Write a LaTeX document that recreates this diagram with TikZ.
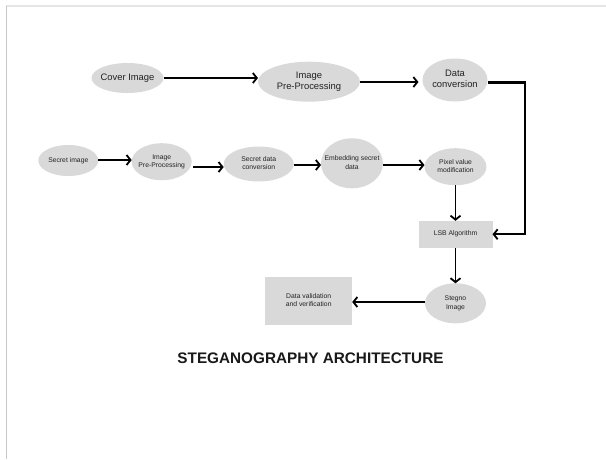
\documentclass[tikz,border=0pt]{standalone}
\usepackage{fontspec}
\setmainfont{Liberation Sans}
\usetikzlibrary{shapes.geometric,arrows.meta}
\definecolor{boxgray}{HTML}{D9D9D9}
\definecolor{txt}{HTML}{222222}
\newcommand{\zw}[1]{\makebox[0pt]{\begin{tabular}{@{}c@{}}#1\end{tabular}}}
\begin{document}
\begin{tikzpicture}[x=1pt,y=-1pt,
  ell/.style={ellipse,fill=boxgray,inner sep=0pt,outer sep=0pt,text=txt},
  rbox/.style={rectangle,fill=boxgray,inner sep=0pt,outer sep=0pt,text=txt},
  big/.style={font=\fontsize{9.4}{10.5}\selectfont},
  small/.style={font=\fontsize{6.8}{8.3}\selectfont},
  arr/.style={line width=1.8pt,-{Straight Barb[length=4pt,width=10pt]}},
  ]
\useasboundingbox (0,0) rectangle (606,459);
\draw[color=black!10,line width=1.3pt] (6.3,6) -- (606,6);
\draw[color=black!22,line width=1.3pt] (6.3,6) -- (6.3,459);

% top row
\node[ell,big,minimum width=72pt,minimum height=30pt] (cover) at (127.5,78) {\zw{Cover Image}};
\node[ell,big,minimum width=102pt,minimum height=40pt] (pre1) at (309,81.7) {\zw{Image\\Pre-Processing}};
\node[ell,big,minimum width=65pt,minimum height=43pt] (dconv) at (455,80) {\zw{Data\\conversion}};

% second row
\node[ell,small,minimum width=60pt,minimum height=31pt] (secret) at (68.3,160.5) {\zw{Secret image}};
\node[ell,small,minimum width=60pt,minimum height=37pt] (pre2) at (161.7,161.7) {\zw{Image\\Pre-Processing}};
\node[ell,small,minimum width=70pt,minimum height=35pt] (sdc) at (258.7,164) {\zw{Secret data\\conversion}};
\node[ell,small,minimum width=62pt,minimum height=50pt] (emb) at (352,163.3) {\zw{Embedding secret\\data}};
\node[ell,small,minimum width=62pt,minimum height=37pt] (pix) at (455.5,166.7) {\zw{Pixel value\\modification}};

% lower part
\node[rbox,small,minimum width=74pt,minimum height=27pt] (lsb) at (455.5,234.3) {\zw{LSB Algorithm}};
\node[ell,small,minimum width=61pt,minimum height=40pt] (steg) at (455.5,303.3) {\zw{Stegno\\Image}};
\node[rbox,small,minimum width=87pt,minimum height=48pt] (dv) at (308.7,300.8) {\zw{Data validation\\and verification}};

\node[font=\fontsize{15.3}{18}\selectfont\bfseries,text=black!90,inner sep=0pt] (title) at (310.5,358.5) {STEGANOGRAPHY ARCHITECTURE};

% connectors
\draw[arr] (cover.east) -- (cover.east -| pre1.west);
\draw[arr] (pre1.east |- 0,82) -- ([xshift=-4pt]dconv.west |- 0,82);
\coordinate (corner) at (525,82);
\draw[line width=3pt] (dconv.east |- corner) -- ([xshift=0.9pt]corner);
\draw[arr] (corner) -- (corner |- lsb.east) -- (lsb.east);

\draw[arr] (secret.east |- 0,160) -- (pre2.west |- 0,160);
\draw[arr] ([xshift=1.5pt]pre2.east |- 0,167) -- (sdc.west |- 0,167);
\draw[arr] (sdc.east |- 0,165) -- (emb.west |- 0,165);
\draw[arr] (emb.east |- 0,165) -- (pix.west |- 0,165);
\draw[arr] (pix.south) -- (lsb.north);
\draw[arr] (lsb.south) -- (steg.north);
\draw[arr] (steg.west |- 0,302) -- (dv.east |- 0,302);
\end{tikzpicture}
\end{document}
